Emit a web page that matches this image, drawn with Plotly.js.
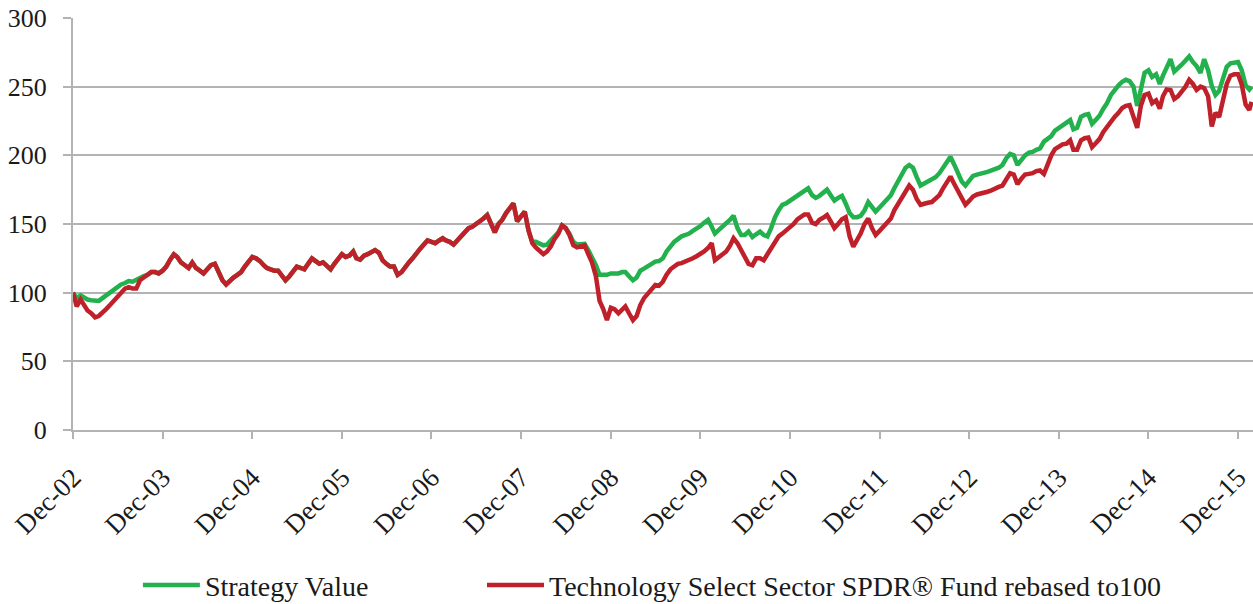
<!DOCTYPE html>
<html>
<head>
<meta charset="utf-8">
<script src="https://cdn.plot.ly/plotly-3.0.1.min.js"></script>
<style>html,body{margin:0;padding:0;background:#fff;}#chart{width:1253px;height:604px;}</style>
</head>
<body>
<div id="chart"></div>
<script>
// Semi-monthly observations (month-end and mid-month) starting 31-Dec-2002, plus final point
const startYear = 2002, startMonth = 12;
const finalDate = "2016-02-24";

const strategyValue = [
100,96,98,96,95,94.5,94,94,96,98,100,103,105,106,107,108.5,108,109.5,111,112,113,115,115,114,
116,119,124,128,126,122,120,118,122,118,116,114,117,120,121,116,109,106,109,111,113,115,119,123,
126,125,123,120,118,117,116,116,113,109,112,116,119,118,117,121,125,123,121,122,119,117,121,124,
128,126,127,130,125,124,127,128,130,131,129,123.5,121,119,119,113,115,119,122,125,129,132,135,138,
137,136,138,139.6,138,137,135,138,141,144,147,148,150,151,154,156.5,150,144,150,153,158,161,165,152,
156,159,145,137,137,136,134.5,135,138,141,144,149,147,143,137,135,135,135.5,131,126,120,113,113,113,
114,114,114,115,115,112,109,111,116,117.5,119,121,122.6,123,125,130,134,137,139,141,142,143,145,146.5,
148.5,151,153,148,143,145.5,148,150,153,156,147,142,142,144.5,140.5,142.5,144.5,142,141,147,155,160,164,165,
167,169,171,173,175,176,171,169,170.5,172.5,175,171,167,169,170.5,165,158,155,155,156,160,166,163,159,
162,165,168,171,176,181,186,191,193,191,184,178,179.5,181,182,184,187,191,196,199,193,187,181,178,
182,185,186,186.5,187,188,189,190,191,193,198,201,200,193,197,200,202,202.5,204,205,210,212,214,218,
220,222.5,223.5,225.7,219,220,228,229.5,230,223,226,229,234,238,244,248,251,253.6,255,254,250,236,248,260,
262,257,259,252,258,264,270,261,263,266,269,272,268,265,260,270,262,250.5,244,247,256,264.5,267,267.5,
268,262,251,248,250];

const techSPDR = [
100,90,95,90,87,85,82,83,85,88,91,94,97,101,103,104,103,103,109,111,113,115,115,114,
116,119,124,128,126,122,120,118,122,118,116,114,117,120,121,116,109,106,109,111,113,115,119,123,
126,125,123,120,118,117,116,116,113,109,112,116,119,118,117,121,125,123,121,122,119,117,121,124,
128,126,127,130,125,124,127,128,130,131,129,123.5,121,119,119,113,115,119,122,125,129,132,135,138,
137,136,138,139.6,138,137,135,138,141,144,147,148,150,151,154,156.5,150,144,150,153,158,161,165,152,
156,159,145,136,133,130,128,130,133.5,139,143,149,147,142,134.5,133,134,134.5,128,122,112,94,88,80,
89,88,85,88,90,85,80,83,91,96,99.5,103,105.6,105,108,113,117,119,121,121.5,122.5,124,125,126.5,
128,130,132.5,136,123.6,126,128,130,134,139.6,136,131,127,121,120,125,125,123.6,128,132.5,137,141,143,145,
147.5,150,153.5,155,157,157,151,150,153,154.5,156.5,152,147,150,153.5,155,141,133.5,138,143,150,154,147,142,
145,148,151,154,160,164.5,169,173,178,175,168,164,165,165.5,166,168,171,176,180,184.5,179,174,168,164,
167,170,171.5,172.5,173,173.5,174.5,176,177,178,183,187,186,179,183,186,186.5,187,188.5,189,186.5,194,200,204.5,
206,208,208.5,211,204,204,211,212.5,213,206,209,212,217,221,225,228,231,234.5,236,236.6,228,220,236,244,
245,238,240,234,243,248,247.6,241,243,246,250,255,252,247.6,250,249,243,221,231,228,242,252,258,259,
259,251.6,237,233,239];

const seriesNames = ["Strategy Value", "Technology Select Sector SPDR\u00AE Fund rebased to100"];
const seriesColors = ["#22b14c", "#c0202a"];

function obsDate(i) {
  const m = Math.floor(i / 2);
  if (i % 2 === 0) {
    const d = new Date(Date.UTC(startYear, startMonth + m, 0));
    return d.toISOString().slice(0, 10);
  }
  const d = new Date(Date.UTC(startYear, startMonth + m, 15));
  return d.toISOString().slice(0, 10);
}
const dates = [];
for (let i = 0; i < techSPDR.length - 1; i++) dates.push(obsDate(i));
dates.push(finalDate);

const font = "'Liberation Serif', 'Times New Roman', serif";
const grid = "#b3b3b3";

const traces = [
  {x: dates, y: strategyValue, name: seriesNames[0], type: "scatter", mode: "lines",
   line: {color: seriesColors[0], width: 4.5}, legend: "legend"},
  {x: dates, y: techSPDR, name: seriesNames[1], type: "scatter", mode: "lines",
   line: {color: seriesColors[1], width: 4.5}, legend: "legend2"}
];

const legendBase = {orientation: "h", xanchor: "left", yref: "container", y: 0.031, yanchor: "middle",
                    font: {family: font, size: 28, color: "#1a1a1a"}, itemwidth: 57,
                    bgcolor: "rgba(0,0,0,0)"};

const layout = {
  width: 1253, height: 604,
  margin: {l: 73, r: 0, t: 18, b: 174, autoexpand: false},
  paper_bgcolor: "#fff", plot_bgcolor: "#fff",
  font: {family: font, size: 26, color: "#1a1a1a"},
  showlegend: true,
  legend: Object.assign({}, legendBase, {x: 0.055}),
  legend2: Object.assign({}, legendBase, {x: 0.3466}),
  xaxis: {type: "date", range: ["2002-12-31", "2016-03-01"],
          tick0: "2002-12-31", dtick: "M12", tickformat: "%b-%y",
          tickangle: -45, ticks: "outside", ticklen: 7, tickwidth: 2, tickcolor: grid,
          showline: true, linecolor: grid, linewidth: 2, showgrid: false, zeroline: false,
          ticklabelstandoff: 12, tickfont: {family: font, size: 27}},
  yaxis: {range: [0, 300], dtick: 50, tick0: 0, ticks: "outside", ticklen: 8, tickwidth: 2,
          tickcolor: grid, showline: true, linecolor: grid, linewidth: 2,
          showgrid: true, gridcolor: grid, gridwidth: 2, zeroline: false,
          ticklabelstandoff: 11, tickfont: {family: font, size: 26}}
};

Plotly.newPlot("chart", traces, layout, {displayModeBar: false, staticPlot: true});
</script>
</body>
</html>
